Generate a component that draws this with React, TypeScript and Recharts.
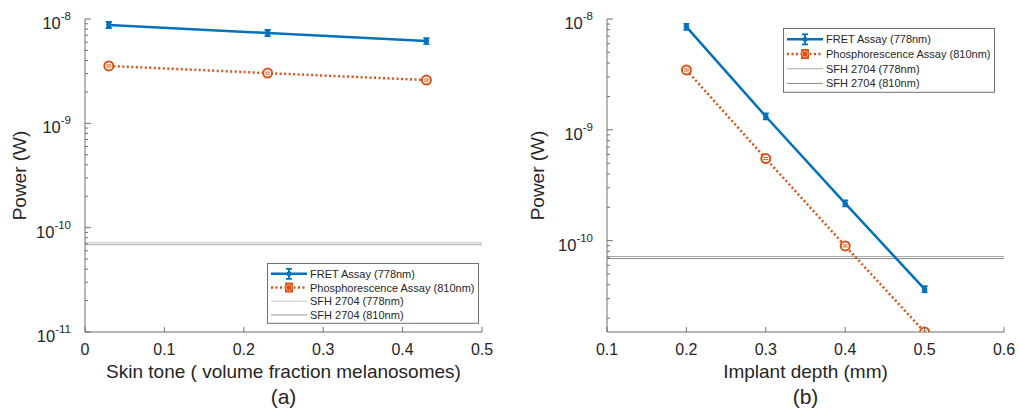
import React from "react";
import { Legend, Line, LineChart, ReferenceLine, XAxis, YAxis } from "recharts";

// panel (a): skin tone
const skinTone = [0.03, 0.23, 0.43];
const fretSkin = [8.76e-9, 7.34e-9, 6.15e-9];
const phosSkin = [3.55e-9, 3.03e-9, 2.6e-9];

// panel (b): implant depth
const depth = [0.2, 0.3, 0.4, 0.5];
const fretDepth = [8.5e-9, 1.32e-9, 2.17e-10, 3.65e-11];
const phosDepth = [3.47e-9, 5.5e-10, 8.96e-11, 1.5e-11];

// detector thresholds
const sfh778 = 7.2e-11;
const sfh810 = 6.9e-11;

const skinTicks = [0, 0.1, 0.2, 0.3, 0.4, 0.5];
const depthTicks = [0.1, 0.2, 0.3, 0.4, 0.5, 0.6];
const majorY = [1e-11, 1e-10, 1e-9, 1e-8];
const minorY = [
  2e-11, 3e-11, 4e-11, 5e-11, 6e-11, 7e-11, 8e-11, 9e-11,
  2e-10, 3e-10, 4e-10, 5e-10, 6e-10, 7e-10, 8e-10, 9e-10,
  2e-9, 3e-9, 4e-9, 5e-9, 6e-9, 7e-9, 8e-9, 9e-9,
];

const legendNames = [
  "FRET Assay (778nm)",
  "Phosphorescence Assay (810nm)",
  "SFH 2704 (778nm)",
  "SFH 2704 (810nm)",
];

const BLUE = "#0072BD";
const ORANGE = "#D95319";
const AXIS = "#6e6e6e";
const TEXT = "#262626";
const FONT = "'Liberation Sans', Arial, sans-serif";

const skinData = skinTone.map((x, i) => ({ x, fret: fretSkin[i], phos: phosSkin[i] }));
const depthData = depth.map((x, i) => ({ x, fret: fretDepth[i], phos: phosDepth[i] }));

function YTick(props: any) {
  const { x, y, payload } = props;
  const v = payload.value;
  const axisX = x + 8;
  const major = majorY.some((m) => Math.abs(m - v) / m < 1e-6);
  const exp = Math.round(Math.log10(v));
  return (
    <g>
      <line x1={axisX} x2={axisX + (major ? 6 : 3)} y1={y} y2={y} stroke={AXIS} strokeWidth={1} />
      {major && (
        <text x={axisX - 14} y={y + 10} textAnchor="end" fill={TEXT} fontSize={16.5} fontFamily={FONT}>
          10
          <tspan dy={-9} fontSize={11.5}>{exp}</tspan>
        </text>
      )}
    </g>
  );
}

function XTick(props: any) {
  const { x, y, payload } = props;
  const axisY = y - 8;
  return (
    <g>
      <line x1={x} x2={x} y1={axisY} y2={axisY - 5} stroke={AXIS} strokeWidth={1} />
      <text x={x} y={axisY + 23} textAnchor="middle" fill={TEXT} fontSize={16} fontFamily={FONT}>
        {payload.value}
      </text>
    </g>
  );
}

function FretDot(props: any) {
  const { cx, cy } = props;
  if (cx == null || cy == null) return null;
  return (
    <g stroke={BLUE} strokeWidth={1.8} fill="none">
      <line x1={cx} x2={cx} y1={cy - 3} y2={cy + 3} />
      <line x1={cx - 3} x2={cx + 3} y1={cy - 3} y2={cy - 3} />
      <line x1={cx - 3} x2={cx + 3} y1={cy + 3} y2={cy + 3} />
      <circle cx={cx} cy={cy} r={1.8} fill={BLUE} />
    </g>
  );
}

function PhosDot(props: any) {
  const { cx, cy } = props;
  if (cx == null || cy == null) return null;
  return (
    <g stroke={ORANGE} strokeWidth={2} fill="none">
      <circle cx={cx} cy={cy} r={4.5} fill="#fff" />
      <line x1={cx - 2.5} x2={cx + 2.5} y1={cy - 1} y2={cy - 1} strokeWidth={1} />
      <line x1={cx - 2.5} x2={cx + 2.5} y1={cy + 1} y2={cy + 1} strokeWidth={1} />
    </g>
  );
}

function YTitle(offset: number) {
  return (props: any) => {
    const vb = props.viewBox;
    const cx = vb.x + offset;
    const cy = vb.y + vb.height / 2;
    return (
      <text
        x={cx}
        y={cy}
        transform={`rotate(-90 ${cx} ${cy})`}
        textAnchor="middle"
        dominantBaseline="central"
        fill={TEXT}
        fontSize={19}
        fontFamily={FONT}
      >
        Power (W)
      </text>
    );
  };
}

function XTitle(title: string, tag: string) {
  return (props: any) => {
    const vb = props.viewBox;
    const cx = vb.x + vb.width / 2;
    return (
      <g fill={TEXT} fontFamily={FONT} textAnchor="middle">
        <text x={cx} y={vb.y + 46} fontSize={19}>{title}</text>
        <text x={cx} y={vb.y + 72} fontSize={21}>{tag}</text>
      </g>
    );
  };
}

function LegendBox({ rowH, sfhColors, sfhWidth }: { rowH: number; sfhColors: string[]; sfhWidth: number }) {
  const w = 212;
  const h = rowH * 4 + 6;
  return (
    <svg width={w} height={h} style={{ display: "block" }}>
      <rect x={0.5} y={0.5} width={w - 1} height={h - 1} fill="#fff" stroke={AXIS} strokeWidth={1} />
      {legendNames.map((name, i) => {
        const y = 4 + rowH * (i + 0.5);
        return (
          <g key={name}>
            {i === 0 && (
              <g>
                <line x1={4} x2={40} y1={y} y2={y} stroke={BLUE} strokeWidth={2.5} />
                <line x1={22} x2={22} y1={y - 5} y2={y + 5} stroke={BLUE} strokeWidth={1.8} />
                <line x1={19} x2={25} y1={y - 5} y2={y - 5} stroke={BLUE} strokeWidth={1.8} />
                <line x1={19} x2={25} y1={y + 5} y2={y + 5} stroke={BLUE} strokeWidth={1.8} />
                <circle cx={22} cy={y} r={2.5} fill={BLUE} />
              </g>
            )}
            {i === 1 && (
              <g>
                <line x1={4} x2={40} y1={y} y2={y} stroke={ORANGE} strokeWidth={2.5} strokeDasharray="2 2.5" />
                <rect x={18} y={y - 5} width={8} height={10} fill={ORANGE} />
                <circle cx={22} cy={y} r={3} fill="none" stroke="#f3a070" strokeWidth={1} />
              </g>
            )}
            {i >= 2 && (
              <line x1={4} x2={40} y1={y} y2={y} stroke={sfhColors[i - 2]} strokeWidth={sfhWidth} />
            )}
            <text x={43} y={y + 4} fontSize={11} fill={TEXT} fontFamily={FONT}>
              {name}
            </text>
          </g>
        );
      })}
    </svg>
  );
}

export default function App() {
  return (
    <div style={{ position: "absolute", left: 0, top: 0, width: 1019, height: 417, background: "#fff" }}>
      <div style={{ position: "absolute", left: 0, top: 0 }}>
        <LineChart width={510} height={417} data={skinData} margin={{ top: 19, right: 28, bottom: 55, left: 0 }}>
          <XAxis
            dataKey="x"
            type="number"
            domain={[0, 0.5]}
            ticks={skinTicks}
            stroke={AXIS}
            tickLine={false}
            tickSize={0}
            tickMargin={8}
            height={30}
            tick={<XTick />}
            label={XTitle("Skin tone ( volume fraction melanosomes)", "(a)")}
          />
          <YAxis
            type="number"
            scale="log"
            domain={[1e-11, 1e-8]}
            allowDataOverflow
            ticks={[...majorY, ...minorY]}
            interval={0}
            stroke={AXIS}
            tickLine={false}
            tickSize={0}
            tickMargin={8}
            width={85}
            tick={<YTick />}
            label={YTitle(19)}
          />
          <ReferenceLine y={sfh778} stroke="#d4d4d4" strokeWidth={1.5} />
          <ReferenceLine y={sfh810} stroke="#bdbdbd" strokeWidth={1.5} />
          <Line dataKey="fret" stroke={BLUE} strokeWidth={2.5} dot={<FretDot />} isAnimationActive={false} />
          <Line
            dataKey="phos"
            stroke={ORANGE}
            strokeWidth={2.5}
            strokeDasharray="2 2.5"
            dot={<PhosDot />}
            isAnimationActive={false}
          />
          <Legend
            layout="horizontal"
            verticalAlign="middle"
            wrapperStyle={{ position: "absolute", left: 267, top: 263, width: 212 }}
            content={() => <LegendBox rowH={13.7} sfhColors={["#d9d9d9", "#bdbdbd"]} sfhWidth={1.5} />}
          />
        </LineChart>
      </div>
      <div style={{ position: "absolute", left: 510, top: 0 }}>
        <LineChart width={509} height={417} data={depthData} margin={{ top: 19, right: 15, bottom: 55, left: 0 }}>
          <XAxis
            dataKey="x"
            type="number"
            domain={[0.1, 0.6]}
            ticks={depthTicks}
            stroke={AXIS}
            tickLine={false}
            tickSize={0}
            tickMargin={8}
            height={30}
            tick={<XTick />}
            label={XTitle("Implant depth (mm)", "(b)")}
          />
          <YAxis
            type="number"
            scale="log"
            domain={[1.5e-11, 1e-8]}
            allowDataOverflow
            ticks={[...majorY.slice(1), ...minorY]}
            interval={0}
            stroke={AXIS}
            tickLine={false}
            tickSize={0}
            tickMargin={8}
            width={97}
            tick={<YTick />}
            label={YTitle(27)}
          />
          <ReferenceLine y={sfh778} stroke="#a8a8a8" strokeWidth={1} />
          <ReferenceLine y={sfh810} stroke="#8c8c8c" strokeWidth={1} />
          <Line dataKey="fret" stroke={BLUE} strokeWidth={2.5} dot={<FretDot />} isAnimationActive={false} />
          <Line
            dataKey="phos"
            stroke={ORANGE}
            strokeWidth={2.5}
            strokeDasharray="2 2.5"
            dot={<PhosDot />}
            isAnimationActive={false}
          />
          <Legend
            layout="horizontal"
            verticalAlign="middle"
            wrapperStyle={{ position: "absolute", left: 273, top: 28, width: 212 }}
            content={() => <LegendBox rowH={14.7} sfhColors={["#a8a8a8", "#8c8c8c"]} sfhWidth={1} />}
          />
        </LineChart>
      </div>
    </div>
  );
}
